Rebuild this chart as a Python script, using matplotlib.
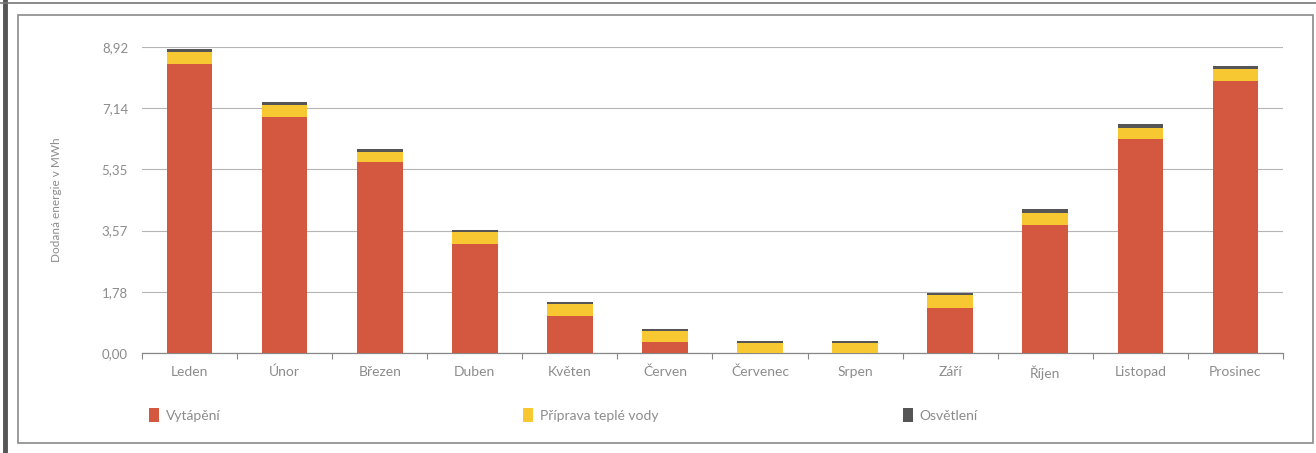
import numpy as np
import matplotlib.pyplot as plt
from matplotlib.patches import Rectangle
from matplotlib.lines import Line2D

# Monthly delivered energy (MWh)
months = ['Leden', 'Únor', 'Březen', 'Duben', 'Květen', 'Červen',
          'Červenec', 'Srpen', 'Září', 'Říjen', 'Listopad', 'Prosinec']
heating = [8.43, 6.88, 5.56, 3.17, 1.07, 0.32, 0.00, 0.00, 1.32, 3.72, 6.23, 7.92]
hot_water = [0.34, 0.35, 0.30, 0.36, 0.36, 0.33, 0.28, 0.28, 0.36, 0.36, 0.34, 0.35]
lighting = [0.09, 0.10, 0.10, 0.05, 0.05, 0.05, 0.06, 0.06, 0.06, 0.11, 0.12, 0.11]
series_names = ['Vytápění', 'Příprava teplé vody', 'Osvětlení']
y_ticks = [0.00, 1.78, 3.57, 5.35, 7.14, 8.92]

colors = ['#d4573f', '#f7c832', '#555555']
text_col = '#8c8c8c'

plt.rcParams['font.family'] = ['Lato', 'DejaVu Sans']

fig = plt.figure(figsize=(13.16, 4.53), dpi=100, facecolor='white')
ax = fig.add_axes([142 / 1316, 1 - 353 / 453, 1141 / 1316, 306 / 453])

x = np.arange(len(months))
h1 = np.array(heating)
h2 = np.array(hot_water)
h3 = np.array(lighting)
b1 = ax.bar(x, h1, width=0.48, color=colors[0], zorder=3)
b2 = ax.bar(x, h2, width=0.48, bottom=h1, color=colors[1], zorder=3)
b3 = ax.bar(x, h3, width=0.48, bottom=h1 + h2, color=colors[2], zorder=3)

ax.set_xlim(-0.5, len(months) - 0.5)
ax.set_ylim(0, 8.92)
ax.set_yticks(y_ticks)
ax.set_yticklabels([f'{v:.2f}'.replace('.', ',') for v in y_ticks])
ax.grid(axis='y', color='#b5b5b5', linewidth=0.8, zorder=0)
ax.tick_params(axis='y', length=0, pad=10, labelsize=9.5, labelcolor=text_col)

# category labels centred, boundary ticks between them
ax.set_xticks(x)
ax.set_xticklabels(months)
ax.tick_params(axis='x', which='major', length=0, pad=9, labelsize=10, labelcolor=text_col)
ax.set_xticks(np.arange(-0.5, len(months), 1), minor=True)
ax.tick_params(axis='x', which='minor', length=4, color='#888888', width=0.8)

for s in ['top', 'right', 'left']:
    ax.spines[s].set_visible(False)
ax.spines['bottom'].set_color('#888888')
ax.spines['bottom'].set_linewidth(0.9)

fig.text(57 / 1316, 1 - 200 / 453, 'Dodaná energie v MWh', rotation=90,
         ha='center', va='center', fontsize=8.5, color=text_col)

# legend entries spread across the bottom
leg_x = [136, 510, 890]
for bars, name, lx in zip([b1, b2, b3], series_names, leg_x):
    fig.legend(handles=[bars], labels=[name], loc='center left',
               bbox_to_anchor=(lx / 1316, 1 - 415 / 453), frameon=False,
               handlelength=0.75, handleheight=1.1, handletextpad=0.5,
               prop={'size': 10}, labelcolor=text_col)

# inner frame and scanned page edges
fig.patches.append(Rectangle((18 / 1316, 1 - 443 / 453), 1295 / 1316, 428 / 453,
                             transform=fig.transFigure, fill=False,
                             edgecolor='#8a8a8a', linewidth=1.2))
fig.lines.append(Line2D([5 / 1316, 5 / 1316], [0, 1], transform=fig.transFigure,
                        color='#555555', linewidth=3.5))
fig.lines.append(Line2D([0, 1], [1 - 3 / 453, 1 - 3 / 453], transform=fig.transFigure,
                        color='#777777', linewidth=1.2))

fig.savefig('out.png', dpi=100, facecolor='white')
